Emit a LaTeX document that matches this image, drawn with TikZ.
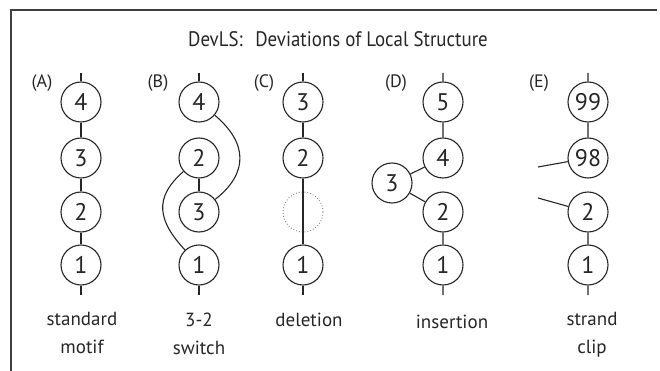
\documentclass[tikz,border=0pt]{standalone}
\usepackage{fontspec}
\setmainfont{PT Sans}
\newfontfamily\narrowsans[FakeStretch=0.9]{PT Sans}
\usetikzlibrary{arrows,positioning,calc}

\begin{document}
\begin{tikzpicture}[x=1pt, y=-1pt, line width=1.1pt, draw=black!85,
      flat/.style={circle,draw=black!85,line width=1.1pt,minimum size=40pt,inner sep=0pt,
        text=black!85,font=\fontsize{24}{24}\selectfont},
      gone/.style={circle,draw=gray,dotted,line width=0.9pt,minimum size=40pt,inner sep=0pt},
      tag/.style={text=black!85,font=\fontsize{18}{18}\selectfont},
      caption/.style={text=black!85,align=center,anchor=north,inner sep=0pt,
        font=\fontsize{19}{28}\selectfont}]
      \useasboundingbox (0,0) rectangle (660,371);
      \draw[black!75] (11,371) -- (11,10) -- (657,10);
      \node[text=black!85,font=\narrowsans\fontsize{21}{21}\selectfont] at (338,39) (title)
        {DevLS:\hspace{0.6em}Deviations of Local Structure};

      % (A) standard motif
      \node[tag]     at (42,83)   (la) {(A)};
      \node[flat]    at (81,102)  (a4) {4};
      \node[flat]    at (81,158)  (a3) {3};
      \node[flat]    at (81,212)  (a2) {2};
      \node[flat]    at (81,265)  (a1) {1};
      \coordinate (a5) at (81,73);
      \coordinate (a0) at (81,295);
      \draw (a5) -- (a4) -- (a3) -- (a2) -- (a1) -- (a0);
      \node[caption] at (82,312) (ca) {standard\\motif};

      % (B) 3-2 switch
      \node[tag]     at (158,83)  (lb) {(B)};
      \node[flat]    at (199,102) (b4) {4};
      \node[flat]    at (199,158) (b2) {2};
      \node[flat]    at (199,212) (b3) {3};
      \node[flat]    at (199,265) (b1) {1};
      \coordinate (b5) at (199,73);
      \coordinate (b0) at (199,295);
      \draw (b5) -- (b4);
      \draw (b2) -- (b3);
      \draw (b1) -- (b0);
      \draw (b4) to[out=-40,in=38,looseness=1.3] (b3);
      \draw (b2) to[out=-139,in=133,looseness=1.3] (b1);
      \node[caption] at (199,312) (cb) {3-2\\switch};

      % (C) deletion
      \node[tag]     at (264,83)  (lc) {(C)};
      \node[flat]    at (303,102) (c3) {3};
      \node[flat]    at (303,158) (c2) {2};
      \node[gone]    at (303,212) (cx) {};
      \node[flat]    at (303,265) (c1) {1};
      \coordinate (c4) at (303,73);
      \coordinate (c0) at (303,295);
      \draw (c4) -- (c3) -- (c2) -- (c1) -- (c0);
      \node[caption] at (309,312) (cc) {deletion};

      % (D) insertion
      \node[tag]     at (396,83)  (ld) {(D)};
      \node[flat]    at (443,102) (d5) {5};
      \node[flat]    at (443,158) (d4) {4};
      \node[flat]    at (392,183) (d3) {3};
      \node[flat]    at (443,212) (d2) {2};
      \node[flat]    at (443,265) (d1) {1};
      \coordinate (d6) at (443,73);
      \coordinate (d0) at (443,295);
      \draw (d6) -- (d5) -- (d4) -- (d3) -- (d2) -- (d1) -- (d0);
      \node[caption] at (452,314) (cd) {insertion};

      % (E) strand clip
      \node[tag]     at (539,83)  (le) {(E)};
      \node[flat]    at (588,102) (e99) {99};
      \node[flat]    at (588,158) (e98) {98};
      \node[flat]    at (588,212) (e2) {2};
      \node[flat]    at (588,265) (e1) {1};
      \coordinate (e100) at (588,73);
      \coordinate (e0) at (588,295);
      \coordinate (cut1) at (538,167);
      \coordinate (cut2) at (538,198);
      \draw (e100) -- (e99) -- (e98) -- (cut1);
      \draw (cut2) -- (e2) -- (e1) -- (e0);
      \node[caption] at (592,312) (ce) {strand\\clip};
    \end{tikzpicture}
\end{document}
